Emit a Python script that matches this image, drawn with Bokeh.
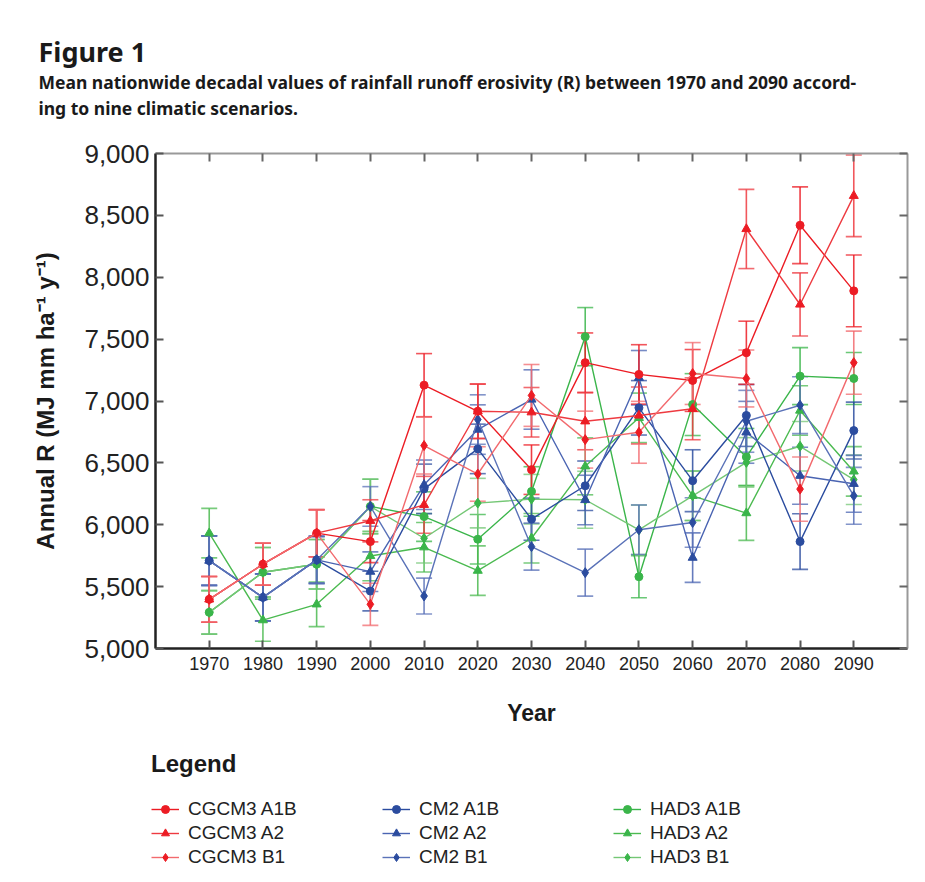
from bokeh.plotting import figure
from bokeh.layouts import column
from bokeh.models import (Range1d, FixedTicker, NumeralTickFormatter, LinearAxis,
                          Whisker, TeeHead, ColumnDataSource, Legend, LegendItem,
                          CustomJSTickFormatter)
from bokeh.core.properties import value
from bokeh.embed import file_html
from bokeh.resources import INLINE

# ---------------- data ----------------
years = [1970, 1980, 1990, 2000, 2010, 2020, 2030, 2040, 2050, 2060, 2070, 2080, 2090]

cgcm3_a1b = [5397, 5681, 5932, 5864, 7128, 6917, 6445, 7310, 7215, 7166, 7390, 8420, 7890]
cgcm3_a2 = [5397, 5681, 5932, 6032, 6161, 6917, 6909, 6836, 6883, 6937, 8390, 7780, 8658]
cgcm3_b1 = [5397, 5681, 5932, 5357, 6640, 6410, 7045, 6688, 6747, 7222, 7182, 6288, 7310]

cm2_a1b = [5710, 5413, 5716, 5464, 6290, 6613, 6045, 6315, 6945, 6356, 6883, 5864, 6761]
cm2_a2 = [5710, 5413, 5716, 5621, 6323, 6769, 7012, 6200, 7188, 5734, 6747, 6396, 6331]
cm2_b1 = [5710, 5413, 5716, 6148, 5424, 6850, 5823, 5613, 5960, 6018, 6836, 6966, 6234]

had3_a1b = [5292, 5616, 5681, 6148, 6066, 5883, 6269, 7520, 5580, 6971, 6548, 7201, 7182]
had3_a2 = [5932, 5229, 5357, 5748, 5818, 5629, 5891, 6472, 6864, 6234, 6094, 6923, 6431]
had3_b1 = [5292, 5616, 5681, 6148, 5891, 6175, 6207, 6202, 5959, 6234, 6504, 6634, 6364]

# half-width of error bars
cgcm3_a1b_err = [185, 170, 190, 170, 255, 220, 200, 240, 240, 250, 255, 310, 290]
cgcm3_a2_err = [185, 170, 190, 170, 230, 220, 200, 230, 230, 250, 320, 255, 330]
cgcm3_b1_err = [185, 170, 190, 170, 230, 220, 250, 230, 250, 250, 230, 260, 255]
cm2_a1b_err = [200, 190, 190, 160, 200, 200, 170, 200, 220, 250, 250, 225, 230]
cm2_a2_err = [200, 190, 190, 160, 200, 200, 240, 200, 220, 200, 250, 230, 230]
cm2_b1_err = [200, 190, 190, 160, 145, 200, 190, 190, 200, 200, 250, 230, 230]
had3_a1b_err = [176, 200, 200, 220, 200, 200, 200, 235, 170, 250, 230, 230, 210]
had3_a2_err = [200, 170, 180, 200, 200, 200, 200, 230, 200, 200, 220, 200, 200]
had3_b1_err = [176, 200, 200, 220, 200, 200, 200, 230, 200, 200, 200, 200, 200]

series_names = ["CGCM3 A1B", "CGCM3 A2", "CGCM3 B1",
                "CM2 A1B", "CM2 A2", "CM2 B1",
                "HAD3 A1B", "HAD3 A2", "HAD3 B1"]
series_values = [cgcm3_a1b, cgcm3_a2, cgcm3_b1, cm2_a1b, cm2_a2, cm2_b1,
                 had3_a1b, had3_a2, had3_b1]
series_errors = [cgcm3_a1b_err, cgcm3_a2_err, cgcm3_b1_err, cm2_a1b_err, cm2_a2_err,
                 cm2_b1_err, had3_a1b_err, had3_a2_err, had3_b1_err]
line_colors = ["#ec1c24", "#ee3a40", "#f26a6e",
               "#2b4c9f", "#4a64b2", "#5a72b8",
               "#3ab54a", "#4bba50", "#74c775"]
marker_colors = ["#ec1c24", "#ec1c24", "#ec1c24",
                 "#2b4c9f", "#2b4c9f", "#2b4c9f",
                 "#3ab54a", "#3ab54a", "#3ab54a"]
markers = ["circle", "triangle", "diamond"] * 3
marker_sizes = [8, 9, 10] * 3

y_ticks = [5000, 5500, 6000, 6500, 7000, 7500, 8000, 8500, 9000]

caption_title = "Figure 1"
caption_lines = ["Mean nationwide decadal values of rainfall runoff erosivity (R) between 1970 and 2090 accord-",
                 "ing to nine climatic scenarios."]

TICK_FONT = "Liberation Sans"
TITLE_FONT = "Noto Sans"

W = 925
HEAD_H = 140
MAIN_H = 593
LEG_H = 882 - HEAD_H - MAIN_H

# ---------------- header (caption) ----------------
head = figure(width=W, height=HEAD_H, x_range=Range1d(0, W), y_range=Range1d(HEAD_H, 0),
              min_border=0, output_backend="svg", toolbar_location=None,
              frame_align=False)
head.axis.visible = False
head.grid.visible = False
head.outline_line_color = None
head.text(x=[38], y=[51], text=[caption_title], text_font=value(TITLE_FONT),
          text_font_style="bold", text_font_size="27px", text_color="#1a1a1a",
          text_baseline="middle", text_align="left")
head.text(x=[38, 38], y=[81, 107], text=caption_lines, text_font=value(TITLE_FONT),
          text_font_style="bold", text_font_size="17.5px", text_color="#1a1a1a",
          text_baseline="middle", text_align="left")

# ---------------- main figure ----------------
p = figure(frame_width=752, frame_height=495,
           min_border_left=155, min_border_top=153 - HEAD_H, min_border_right=18,
           min_border_bottom=MAIN_H - 495 - (153 - HEAD_H),
           x_range=Range1d(1960, 2100), y_range=Range1d(5000, 9000),
           output_backend="svg", toolbar_location=None)
p.xgrid.grid_line_color = None
p.ygrid.grid_line_color = None
p.outline_line_color = None

xa = p.xaxis[0]
xa.ticker = FixedTicker(ticks=years)
xa.axis_label = "Year"
xa.axis_label_text_font = TICK_FONT
xa.axis_label_text_font_style = "bold"
xa.axis_label_text_font_size = "23px"
xa.axis_label_text_color = "#1a1a1a"
xa.axis_label_standoff = 27
xa.major_label_text_font = TICK_FONT
xa.major_label_text_font_size = "18px"
xa.major_label_text_color = "#222222"
xa.major_label_standoff = 8
xa.axis_line_color = "#222222"
xa.axis_line_width = 2.5
xa.major_tick_in = 8
xa.major_tick_out = 0
xa.major_tick_line_color = "#555555"
xa.major_tick_line_width = 2
xa.minor_tick_line_color = None

ya = p.yaxis[0]
ya.ticker = FixedTicker(ticks=y_ticks)
ya.formatter = NumeralTickFormatter(format="0,0")
ya.axis_label = "Annual R (MJ mm ha\u207b\u00b9 y\u207b\u00b9)"
ya.axis_label_text_font = TICK_FONT
ya.axis_label_text_font_style = "bold"
ya.axis_label_text_font_size = "24px"
ya.axis_label_text_color = "#1a1a1a"
ya.axis_label_standoff = 22
ya.major_label_text_font = TICK_FONT
ya.major_label_text_font_size = "26px"
ya.major_label_text_color = "#222222"
ya.major_label_standoff = 6
ya.axis_line_color = "#222222"
ya.axis_line_width = 2.5
ya.major_tick_in = 8
ya.major_tick_out = 0
ya.major_tick_line_color = "#555555"
ya.major_tick_line_width = 2
ya.minor_tick_line_color = None

blank = CustomJSTickFormatter(code="return ''")
top_axis = LinearAxis(ticker=FixedTicker(ticks=years), formatter=blank,
                      axis_line_color="#999999", axis_line_width=2,
                      major_tick_in=8, major_tick_out=0,
                      major_tick_line_color="#666666", major_tick_line_width=2,
                      minor_tick_line_color=None, major_label_standoff=0,
                      major_label_text_font_size="0px")
right_axis = LinearAxis(ticker=FixedTicker(ticks=y_ticks), formatter=blank,
                        axis_line_color="#999999", axis_line_width=2,
                        major_tick_in=8, major_tick_out=0,
                        major_tick_line_color="#666666", major_tick_line_width=2,
                        minor_tick_line_color=None, major_label_standoff=0,
                        major_label_text_font_size="0px")
p.add_layout(top_axis, "above")
p.add_layout(right_axis, "right")

# ---------------- series ----------------
sources = {}
draw_order = [6, 7, 8, 3, 4, 5, 0, 1, 2]
for i in draw_order:
    vals = series_values[i]
    errs = series_errors[i]
    src = ColumnDataSource(dict(
        x=years, y=vals,
        upper=[v + e for v, e in zip(vals, errs)],
        lower=[v - e for v, e in zip(vals, errs)]))
    sources[i] = src
    w = Whisker(source=src, base="x", upper="upper", lower="lower",
                line_color=line_colors[i], line_width=1.6, line_alpha=0.85,
                upper_head=TeeHead(size=16, line_color=line_colors[i], line_width=1.6, line_alpha=0.75),
                lower_head=TeeHead(size=16, line_color=line_colors[i], line_width=1.6, line_alpha=0.75))
    p.add_layout(w)
    p.line("x", "y", source=src, line_color=line_colors[i], line_width=1.4)
    p.scatter("x", "y", source=src, marker=markers[i], size=marker_sizes[i],
              fill_color=marker_colors[i], line_color=marker_colors[i])

# ---------------- legend panel ----------------
# The legend sits in its own strip below the chart; its renderers use the same
# series (they fall outside this strip's ranges, so only the legend samples show).
leg = figure(width=W, height=LEG_H, x_range=Range1d(0, 1), y_range=Range1d(0, 1),
             min_border=0, output_backend="svg", toolbar_location=None,
             frame_align=False)
leg.axis.visible = False
leg.grid.visible = False
leg.outline_line_color = None
items = []
for i in range(9):
    rl = leg.line("x", "y", source=sources[i], line_color=line_colors[i], line_width=1.4)
    rm = leg.scatter("x", "y", source=sources[i], marker=markers[i], size=marker_sizes[i],
                     fill_color=marker_colors[i], line_color=marker_colors[i])
    items.append(LegendItem(label=series_names[i], renderers=[rl, rm]))

legend = Legend(items=items, nrows=3, orientation="vertical",
                location=(151, 14), title="Legend",
                title_text_font=TICK_FONT, title_text_font_style="bold",
                title_text_font_size="24px", title_text_color="#1a1a1a",
                title_standoff=20,
                label_text_font=TICK_FONT, label_text_font_size="19px",
                label_text_color="#222222",
                glyph_width=28, glyph_height=20, label_height=20,
                label_standoff=9, label_width=192, spacing=2,
                padding=0, margin=0, border_line_color=None,
                background_fill_alpha=0)
leg.add_layout(legend, "center")

layout = column(head, p, leg, spacing=0)
open("out.html", "w").write(file_html(layout, INLINE))
